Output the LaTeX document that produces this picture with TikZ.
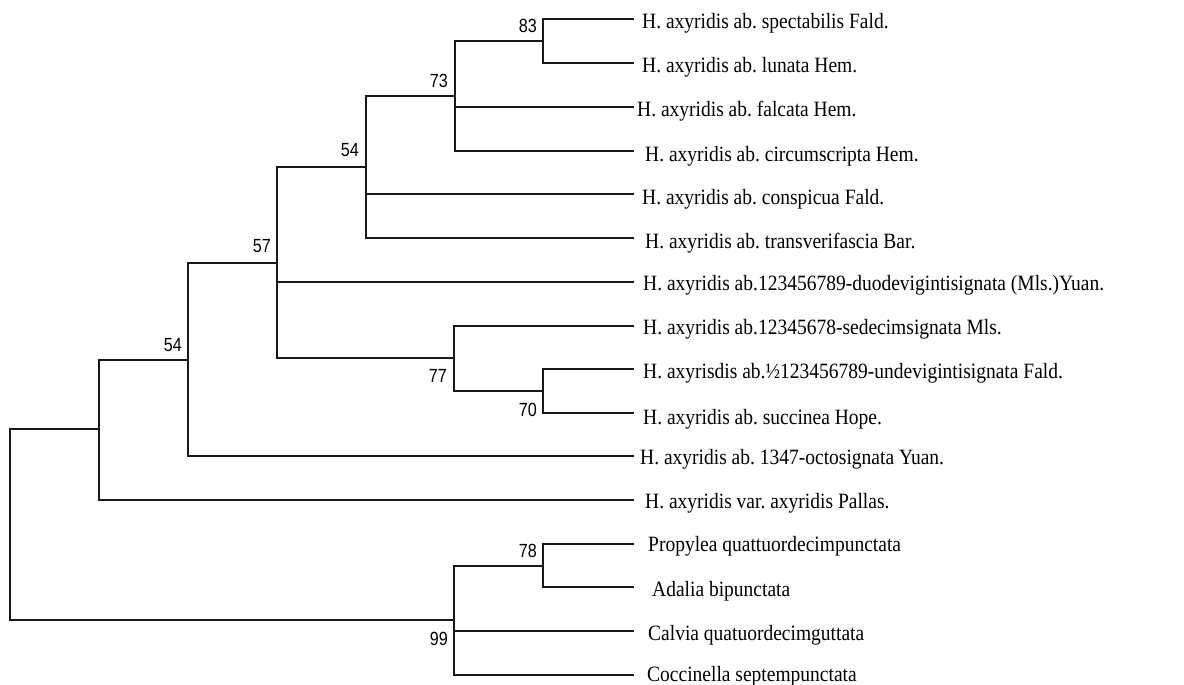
\documentclass[tikz,border=0pt]{standalone}
\usepackage{graphicx}
\usepackage{fontspec}
\setmainfont{Liberation Serif}
\newfontfamily\numfont{Liberation Sans}
\newcommand\tallname[1]{\scalebox{1}[1.12]{#1}}
\newcommand\tallnum[1]{\scalebox{0.95}[1.12]{#1}}
\frenchspacing
\begin{document}
\begin{tikzpicture}[x=1pt,y=-1pt,
  branch/.style={draw=black!90, line width=1.4pt, line cap=rect},
  taxon/.style={anchor=base west, inner sep=0pt, font=\fontsize{19.5}{22}\selectfont},
  bootup/.style={anchor=south east, inner sep=0pt, font=\numfont\fontsize{17}{19}\selectfont},
  bootdown/.style={anchor=north east, inner sep=0pt, font=\numfont\fontsize{17}{19}\selectfont}]
\useasboundingbox (0,0) rectangle (1184,685);

% tips of the terminal branches
\coordinate (t1)  at (633,19);
\coordinate (t2)  at (633,63);
\coordinate (t3)  at (633,107);
\coordinate (t4)  at (633,151);
\coordinate (t5)  at (633,194);
\coordinate (t6)  at (633,238);
\coordinate (t7)  at (633,282);
\coordinate (t8)  at (633,326);
\coordinate (t9)  at (633,369);
\coordinate (t10) at (633,413);
\coordinate (t11) at (633,456);
\coordinate (t12) at (633,500);
\coordinate (t13) at (633,544);
\coordinate (t14) at (633,587);
\coordinate (t15) at (633,631);
\coordinate (t16) at (633,675);

% internal nodes (x = depth, y = midpoint of the clade)
\coordinate (n83)  at (543,41);
\coordinate (n73)  at (455,96);
\coordinate (n54)  at (366,167);
\coordinate (n70)  at (543,391);
\coordinate (n77)  at (454,358);
\coordinate (n57)  at (277,263);
\coordinate (n54b) at (188,360);
\coordinate (nA)   at (99,429);
\coordinate (n78)  at (543,566);
\coordinate (n99)  at (454,620);
\coordinate (root) at (10,525);

% taxon names
\node[taxon] (L1)  at (642,28.5) {\tallname{H. axyridis ab. spectabilis Fald.}};
\node[taxon] (L2)  at (642,72.5) {\tallname{H. axyridis ab. lunata Hem.}};
\node[taxon] (L3)  at (637,116) {\tallname{H. axyridis ab. falcata Hem.}};
\node[taxon] (L4)  at (645,161) {\tallname{H. axyridis ab. circumscripta Hem.}};
\node[taxon] (L5)  at (642,204) {\tallname{H. axyridis ab. conspicua Fald.}};
\node[taxon] (L6)  at (645,248) {\tallname{H. axyridis ab. transverifascia Bar.}};
\node[taxon] (L7)  at (643,290.5) {\tallname{H. axyridis ab.123456789-duodevigintisignata (Mls.)Yuan.}};
\node[taxon] (L8)  at (643,334) {\tallname{H. axyridis ab.12345678-sedecimsignata Mls.}};
\node[taxon] (L9)  at (643,378) {\tallname{H. axyrisdis ab.½123456789-undevigintisignata Fald.}};
\node[taxon] (L10) at (643,424) {\tallname{H. axyridis ab. succinea Hope.}};
\node[taxon] (L11) at (640,464) {\tallname{H. axyridis ab. 1347-octosignata Yuan.}};
\node[taxon] (L12) at (645,508.5) {\tallname{H. axyridis var. axyridis Pallas.}};
\node[taxon] (L13) at (648,551.5) {\tallname{Propylea quattuordecimpunctata}};
\node[taxon] (L14) at (652,596.5) {\tallname{Adalia bipunctata}};
\node[taxon] (L15) at (648,640) {\tallname{Calvia quatuordecimguttata}};
\node[taxon] (L16) at (647,681) {\tallname{Coccinella septempunctata}};

% branches
\draw[branch] (n83) |- (t1);
\draw[branch] (n83) |- (t2);
\draw[branch] (n73) |- (n83);
\draw[branch] (n73) |- (t3);
\draw[branch] (n73) |- (t4);
\draw[branch] (n54) |- (n73);
\draw[branch] (n54) |- (t5);
\draw[branch] (n54) |- (t6);
\draw[branch] (n70) |- (t9);
\draw[branch] (n70) |- (t10);
\draw[branch] (n77) |- (t8);
\draw[branch] (n77) |- (n70);
\draw[branch] (n57) |- (n54);
\draw[branch] (n57) |- (t7);
\draw[branch] (n57) |- (n77);
\draw[branch] (n54b) |- (n57);
\draw[branch] (n54b) |- (t11);
\draw[branch] (nA) |- (n54b);
\draw[branch] (nA) |- (t12);
\draw[branch] (n78) |- (t13);
\draw[branch] (n78) |- (t14);
\draw[branch] (n99) |- (n78);
\draw[branch] (n99) |- (t15);
\draw[branch] (n99) |- (t16);
\draw[branch] (root) |- (nA);
\draw[branch] (root) |- (n99);

% bootstrap values
\node[bootup]   (b83)  at (537,33)  {\tallnum{83}};
\node[bootup]   (b73)  at (448,88)  {\tallnum{73}};
\node[bootup]   (b54)  at (359,157) {\tallnum{54}};
\node[bootup]   (b57)  at (271,253) {\tallnum{57}};
\node[bootup]   (b54b) at (182,352) {\tallnum{54}};
\node[bootdown] (b77)  at (447,369) {\tallnum{77}};
\node[bootdown] (b70)  at (537,403) {\tallnum{70}};
\node[bootup]   (b78)  at (537,558) {\tallnum{78}};
\node[bootdown] (b99)  at (448,632) {\tallnum{99}};
\end{tikzpicture}
\end{document}
